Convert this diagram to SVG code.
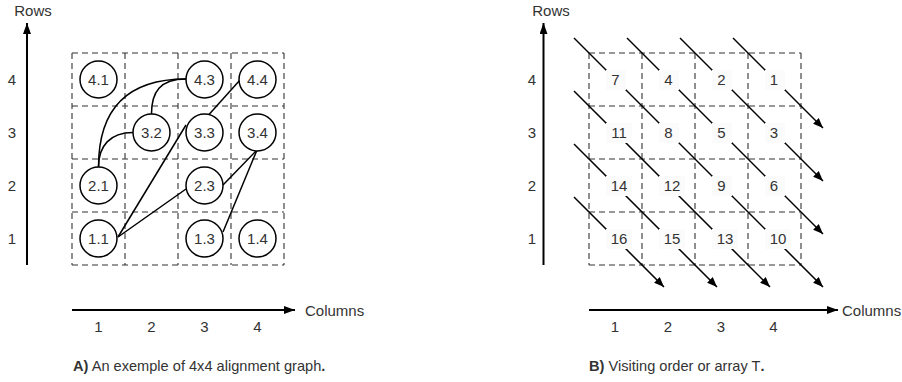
<svg xmlns="http://www.w3.org/2000/svg" width="902" height="382" viewBox="0 0 902 382">
<defs>
<marker id="ah" viewBox="0 0 10 8" refX="10" refY="4" markerWidth="10" markerHeight="8" markerUnits="userSpaceOnUse" orient="auto">
<path d="M0,0 L10,4 L0,8 z" fill="#000"/>
</marker>
<marker id="axh" viewBox="0 0 11 8" refX="11" refY="4" markerWidth="11" markerHeight="8" markerUnits="userSpaceOnUse" orient="auto">
<path d="M0,0 L11,4 L0,8 z" fill="#000"/>
</marker>
</defs>
<style>
text{font-family:"Liberation Sans",Arial,sans-serif;font-size:15px;fill:#333}
.cap{font-size:14.6px}
.c{text-anchor:middle;dominant-baseline:central}
.grid{stroke:#333;stroke-width:1.1;stroke-dasharray:6 4;fill:none}
.node circle{fill:#fff;stroke:#000;stroke-width:1.5}
.edge{fill:none;stroke:#000;stroke-width:1.5}
.axis{stroke:#000;stroke-width:2;fill:none}
.diag{stroke:#000;stroke-width:1.5;fill:none}
.lb{fill:#fbfbfb}
</style>
<rect width="902" height="382" fill="#fff"/>

<!-- Panel A -->
<g id="axesA">
<line class="axis" x1="27" y1="265" x2="27" y2="23" marker-end="url(#axh)"/>
<text x="33" y="16" text-anchor="middle">Rows</text>
<text class="c" x="12" y="79.5">4</text>
<text class="c" x="12" y="132.5">3</text>
<text class="c" x="12" y="185.5">2</text>
<text class="c" x="12" y="238.5">1</text>
<line class="axis" x1="72" y1="310" x2="295" y2="310" marker-end="url(#axh)"/>
<text x="305" y="316">Columns</text>
<text class="c" x="98.5" y="326">1</text>
<text class="c" x="151.5" y="326">2</text>
<text class="c" x="204.5" y="326">3</text>
<text class="c" x="257.5" y="326">4</text>
<text class="cap" x="73" y="371"><tspan font-weight="bold">A)</tspan> An exemple of 4x4 alignment graph<tspan font-weight="bold">.</tspan></text>
</g>
<g id="gridA">
<path class="grid" d="M72,53H284M72,106H284M72,159H284M72,212H284M72,265H284M72,53V265M125,53V265M178,53V265M231,53V265M284,53V265"/>
</g>
<g id="connectorsA">
<path class="edge" d="M98.5,167 C98.5,114 122,79 186,79"/>
<path class="edge" d="M98.5,167 C98.5,146 110,132.5 133,132.5"/>
<path class="edge" d="M151.5,114 C151.5,92 160,79 186,79"/>
<path class="edge" d="M118,237 L186,125"/>
<path class="edge" d="M118,237 L186,189"/>
<path class="edge" d="M223,185 L257,150"/>
<path class="edge" d="M223,232 L257,150"/>
<path class="edge" d="M209,114.5 L240,80"/>
</g>
<g id="n41" class="node"><circle cx="98.5" cy="79.5" r="18.5"/><text class="c" x="98.5" y="79.5">4.1</text></g>
<g id="n43" class="node"><circle cx="204.5" cy="79.5" r="18.5"/><text class="c" x="204.5" y="79.5">4.3</text></g>
<g id="n44" class="node"><circle cx="257.5" cy="79.5" r="18.5"/><text class="c" x="257.5" y="79.5">4.4</text></g>
<g id="n32" class="node"><circle cx="151.5" cy="132.5" r="18.5"/><text class="c" x="151.5" y="132.5">3.2</text></g>
<g id="n33" class="node"><circle cx="204.5" cy="132.5" r="18.5"/><text class="c" x="204.5" y="132.5">3.3</text></g>
<g id="n34" class="node"><circle cx="257.5" cy="132.5" r="18.5"/><text class="c" x="257.5" y="132.5">3.4</text></g>
<g id="n21" class="node"><circle cx="98.5" cy="185.5" r="18.5"/><text class="c" x="98.5" y="185.5">2.1</text></g>
<g id="n23" class="node"><circle cx="204.5" cy="185.5" r="18.5"/><text class="c" x="204.5" y="185.5">2.3</text></g>
<g id="n11" class="node"><circle cx="98.5" cy="238.5" r="18.5"/><text class="c" x="98.5" y="238.5">1.1</text></g>
<g id="n13" class="node"><circle cx="204.5" cy="238.5" r="18.5"/><text class="c" x="204.5" y="238.5">1.3</text></g>
<g id="n14" class="node"><circle cx="257.5" cy="238.5" r="18.5"/><text class="c" x="257.5" y="238.5">1.4</text></g>

<!-- Panel B -->
<g id="axesB">
<line class="axis" x1="543.5" y1="265" x2="543.5" y2="23" marker-end="url(#axh)"/>
<text x="551" y="16" text-anchor="middle">Rows</text>
<text class="c" x="532" y="79.5">4</text>
<text class="c" x="532" y="132.5">3</text>
<text class="c" x="532" y="185.5">2</text>
<text class="c" x="532" y="238.5">1</text>
<line class="axis" x1="589" y1="310" x2="838" y2="310" marker-end="url(#axh)"/>
<text x="842" y="316">Columns</text>
<text class="c" x="615" y="326">1</text>
<text class="c" x="668" y="326">2</text>
<text class="c" x="721" y="326">3</text>
<text class="c" x="773.5" y="326">4</text>
<text class="cap" x="589" y="371"><tspan font-weight="bold">B)</tspan> Visiting order or array T<tspan font-weight="bold">.</tspan></text>
</g>
<g id="gridB">
<path class="grid" d="M589,53H801M589,106H801M589,159H801M589,212H801M589,265H801M589,53V265M642,53V265M695,53V265M748,53V265M801,53V265"/>
</g>
<g id="connectorsB">
<line class="diag" x1="574" y1="38" x2="823" y2="287" marker-end="url(#ah)"/>
<line class="diag" x1="627" y1="38" x2="823" y2="234" marker-end="url(#ah)"/>
<line class="diag" x1="680" y1="38" x2="823" y2="181" marker-end="url(#ah)"/>
<line class="diag" x1="733" y1="38" x2="823" y2="128" marker-end="url(#ah)"/>
<line class="diag" x1="574" y1="91" x2="770" y2="287" marker-end="url(#ah)"/>
<line class="diag" x1="574" y1="144" x2="717" y2="287" marker-end="url(#ah)"/>
<line class="diag" x1="574" y1="197" x2="664" y2="287" marker-end="url(#ah)"/>
</g>
<g id="t7"><rect class="lb" x="606" y="70" width="20" height="20"/><text class="c" x="615.5" y="79.5">7</text></g>
<g id="t4"><rect class="lb" x="659" y="70" width="20" height="20"/><text class="c" x="668.5" y="79.5">4</text></g>
<g id="t2"><rect class="lb" x="712" y="70" width="20" height="20"/><text class="c" x="721.5" y="79.5">2</text></g>
<g id="t1"><rect class="lb" x="765" y="70" width="20" height="20"/><text class="c" x="774" y="79.5">1</text></g>
<g id="t11"><rect class="lb" x="606" y="123" width="26" height="20"/><text class="c" x="619" y="132.5">11</text></g>
<g id="t8"><rect class="lb" x="659" y="123" width="20" height="20"/><text class="c" x="668.5" y="132.5">8</text></g>
<g id="t5"><rect class="lb" x="712" y="123" width="20" height="20"/><text class="c" x="721.5" y="132.5">5</text></g>
<g id="t3"><rect class="lb" x="765" y="123" width="20" height="20"/><text class="c" x="774" y="132.5">3</text></g>
<g id="t14"><rect class="lb" x="606" y="176" width="26" height="20"/><text class="c" x="619" y="185.5">14</text></g>
<g id="t12"><rect class="lb" x="659" y="176" width="26" height="20"/><text class="c" x="672" y="185.5">12</text></g>
<g id="t9"><rect class="lb" x="712" y="176" width="20" height="20"/><text class="c" x="721.5" y="185.5">9</text></g>
<g id="t6"><rect class="lb" x="765" y="176" width="20" height="20"/><text class="c" x="774" y="185.5">6</text></g>
<g id="t16"><rect class="lb" x="606" y="229" width="26" height="20"/><text class="c" x="619" y="238.5">16</text></g>
<g id="t15"><rect class="lb" x="659" y="229" width="26" height="20"/><text class="c" x="672" y="238.5">15</text></g>
<g id="t13"><rect class="lb" x="712" y="229" width="26" height="20"/><text class="c" x="725" y="238.5">13</text></g>
<g id="t10"><rect class="lb" x="765" y="229" width="26" height="20"/><text class="c" x="778" y="238.5">10</text></g>
</svg>
